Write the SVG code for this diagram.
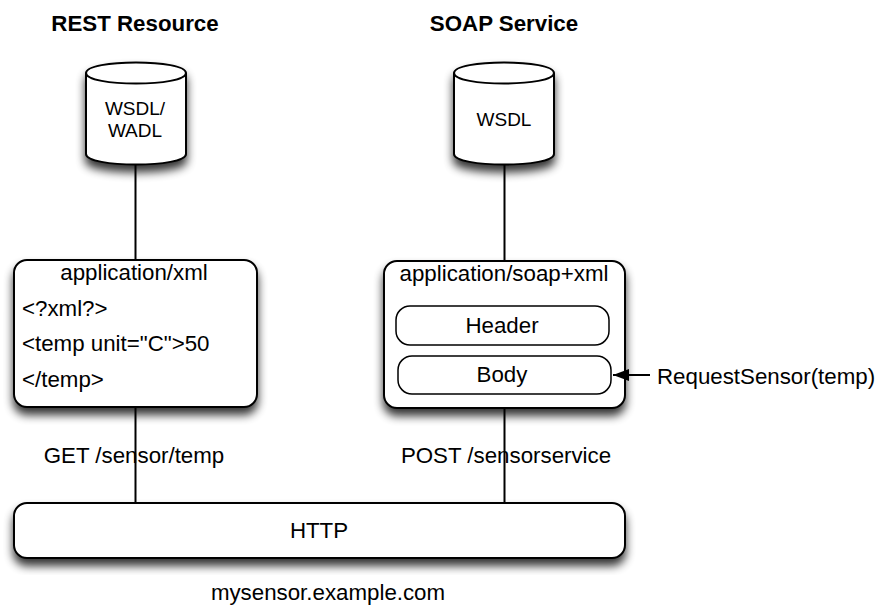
<svg xmlns="http://www.w3.org/2000/svg" width="880" height="608" viewBox="0 0 880 608">
<style>
text{font-family:"Liberation Sans",Arial,sans-serif;fill:#000;font-size:22.300px}
.m{text-anchor:middle}
.t{font-weight:bold}
.s{font-size:19px}
.b{fill:#fff;stroke:#000;stroke-width:2}
.i{fill:#fff;stroke:#000;stroke-width:1.5}
.c{fill:none;stroke:#000;stroke-width:2}
</style>
<defs>
<filter id="sh" x="-20%" y="-20%" width="140%" height="150%">
<feGaussianBlur in="SourceAlpha" stdDeviation="5"/>
<feOffset dy="7"/>
<feComponentTransfer><feFuncA type="linear" slope="0.8"/></feComponentTransfer>
<feMerge><feMergeNode/><feMergeNode in="SourceGraphic"/></feMerge>
</filter>
<marker id="ah" markerUnits="userSpaceOnUse" markerWidth="18" markerHeight="14" refX="17" refY="7" orient="auto">
<path d="M1 1L17 7L1 13Z" fill="#000"/>
</marker>
</defs>
<rect width="880" height="608" fill="#fff"/>
<g id="title-rest"><text class="m t" x="135" y="31">REST Resource</text></g>
<g id="title-soap"><text class="m t" x="504" y="31">SOAP Service</text></g>
<g id="db-rest">
<path class="b" filter="url(#sh)" d="M86 73C86 59 186 59 186 73V154C186 168 86 168 86 154Z"/>
<path class="c" d="M86 73C86 87 186 87 186 73"/>
<text class="m s" x="135" y="115">WSDL/</text>
<text class="m s" x="135" y="137">WADL</text>
</g>
<g id="db-soap">
<path class="b" filter="url(#sh)" d="M454 73C454 59 554 59 554 73V154C554 168 454 168 454 154Z"/>
<path class="c" d="M454 73C454 87 554 87 554 73"/>
<text class="m s" x="504" y="126">WSDL</text>
</g>
<g id="xml-box">
<rect class="b" filter="url(#sh)" x="14" y="260" width="243" height="147" rx="13"/>
<text class="m" x="134" y="280">application/xml</text>
<text x="22" y="316">&lt;?xml?&gt;</text>
<text x="22" y="351">&lt;temp unit="C"&gt;50</text>
<text x="22" y="387">&lt;/temp&gt;</text>
</g>
<g id="soap-box">
<rect class="b" filter="url(#sh)" x="384" y="261" width="241" height="147" rx="13"/>
<text class="m" x="504" y="281">application/soap+xml</text>
</g>
<g id="header"><rect class="i" x="396" y="306" width="213" height="39" rx="14"/><text class="m" x="502" y="333">Header</text></g>
<g id="body"><rect class="i" x="398" y="356" width="213" height="38" rx="14"/><text class="m" x="502" y="382">Body</text></g>
<g id="label-request"><text x="657" y="384">RequestSensor(temp)</text></g>
<g id="label-get"><text class="m" x="134" y="463">GET /sensor/temp</text></g>
<g id="label-post"><text class="m" x="506" y="463">POST /sensorservice</text></g>
<g id="http">
<rect class="b" filter="url(#sh)" x="14" y="503" width="611" height="55" rx="13"/>
<text class="m" x="319" y="538">HTTP</text>
</g>
<g id="label-host"><text class="m" x="328" y="600">mysensor.example.com</text></g>
<g id="connectors">
<path class="c" d="M135.500 165V260M504.500 165V261M135.500 407V503M504.500 408V503"/>
<path class="c" d="M650 375H613" marker-end="url(#ah)"/>
</g>
</svg>
